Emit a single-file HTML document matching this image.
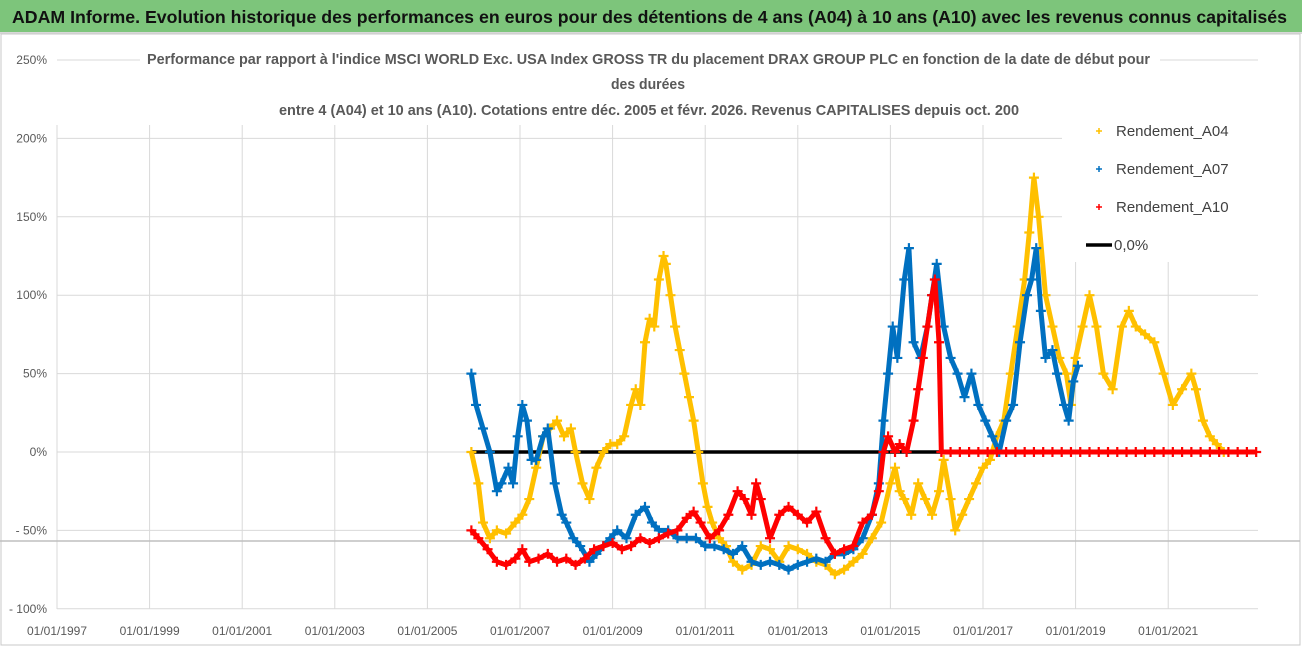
<!DOCTYPE html>
<html><head><meta charset="utf-8">
<style>
body{margin:0;background:#fff;font-family:"Liberation Sans",sans-serif;}
#wrap{position:relative;width:1302px;height:647px;overflow:hidden;background:#fff;}
#banner{position:absolute;left:0;top:0;width:1302px;height:32px;background:#7dc57b;border-bottom:2px solid #d8d8d8;}
svg{position:absolute;left:0;top:0;}
</style></head><body>
<div id="wrap">
<div id="banner"></div>
<svg id="chart" width="1302" height="647">
<text x="12" y="23" font-size="17.5" font-weight="bold" fill="#111" textLength="1275" lengthAdjust="spacingAndGlyphs">ADAM Informe. Evolution historique des performances en euros pour des détentions de 4 ans (A04) à 10 ans (A10) avec les revenus connus capitalisés</text>
</svg>
</div>
<script>
const yTicks=[250,200,150,100,50,0,-50,-100];
const yTickLabels=["250%","200%","150%","100%","50%","0%","- 50%","- 100%"];
const xTickYears=[1997,1999,2001,2003,2005,2007,2009,2011,2013,2015,2017,2019,2021];
const xTickLabels=["01/01/1997","01/01/1999","01/01/2001","01/01/2003","01/01/2005","01/01/2007","01/01/2009","01/01/2011","01/01/2013","01/01/2015","01/01/2017","01/01/2019","01/01/2021"];
const a04Dates=[2005.95,2006.1,2006.2,2006.35,2006.5,2006.7,2006.9,2007.05,2007.2,2007.35,2007.5,2007.65,2007.8,2007.95,2008.1,2008.2,2008.35,2008.5,2008.65,2008.8,2008.95,2009.1,2009.25,2009.4,2009.5,2009.6,2009.7,2009.8,2009.9,2010.0,2010.1,2010.15,2010.25,2010.35,2010.45,2010.55,2010.65,2010.75,2010.85,2010.95,2011.05,2011.15,2011.3,2011.45,2011.6,2011.8,2012.0,2012.2,2012.4,2012.6,2012.8,2013.0,2013.2,2013.4,2013.6,2013.8,2014.0,2014.2,2014.4,2014.6,2014.8,2015.0,2015.1,2015.2,2015.3,2015.45,2015.6,2015.75,2015.9,2016.05,2016.15,2016.3,2016.4,2016.55,2016.7,2016.85,2017.0,2017.15,2017.3,2017.45,2017.6,2017.75,2017.9,2018.0,2018.1,2018.2,2018.35,2018.5,2018.65,2018.8,2018.9,2019.0,2019.15,2019.3,2019.45,2019.6,2019.8,2020.0,2020.15,2020.3,2020.5,2020.7,2020.9,2021.1,2021.3,2021.5,2021.6,2021.75,2021.9,2022.05,2022.2];
const a04Values=[0,-20,-45,-55,-50,-52,-45,-40,-30,-10,10,15,20,10,15,0,-20,-30,-10,0,5,5,10,30,40,30,70,85,80,110,125,120,100,80,65,50,35,20,0,-20,-35,-45,-55,-60,-70,-75,-72,-60,-62,-70,-60,-62,-65,-70,-72,-78,-75,-70,-65,-55,-45,-20,-10,-25,-30,-40,-20,-30,-40,-25,-5,-30,-50,-40,-30,-20,-10,-5,10,20,50,80,110,140,175,150,100,80,60,50,30,60,80,100,80,50,40,80,90,80,75,70,50,30,40,50,40,20,10,5,0];
const a07Dates=[2005.95,2006.05,2006.2,2006.35,2006.5,2006.6,2006.75,2006.85,2006.95,2007.05,2007.15,2007.25,2007.35,2007.5,2007.6,2007.75,2007.9,2008.0,2008.15,2008.3,2008.5,2008.65,2008.8,2008.95,2009.1,2009.3,2009.5,2009.7,2009.85,2010.0,2010.2,2010.4,2010.6,2010.8,2011.0,2011.2,2011.4,2011.6,2011.8,2012.0,2012.2,2012.4,2012.6,2012.8,2013.0,2013.2,2013.4,2013.6,2013.8,2014.0,2014.2,2014.4,2014.6,2014.75,2014.85,2014.95,2015.05,2015.15,2015.3,2015.4,2015.5,2015.65,2015.8,2015.9,2016.0,2016.15,2016.3,2016.45,2016.6,2016.75,2016.9,2017.05,2017.2,2017.35,2017.5,2017.65,2017.8,2017.95,2018.05,2018.15,2018.25,2018.35,2018.5,2018.6,2018.75,2018.85,2018.95,2019.05];
const a07Values=[50,30,15,0,-25,-20,-10,-20,10,30,20,-5,-5,10,15,-20,-40,-45,-55,-60,-70,-65,-60,-55,-50,-55,-40,-35,-45,-50,-50,-55,-55,-55,-60,-60,-62,-65,-60,-70,-72,-70,-72,-75,-72,-70,-68,-70,-65,-65,-62,-55,-40,-20,20,50,80,60,110,130,70,60,80,100,120,80,60,50,35,50,30,20,10,0,20,30,70,100,110,130,90,60,65,50,30,20,45,55];
const a10Dates=[2005.95,2006.1,2006.3,2006.5,2006.7,2006.9,2007.05,2007.2,2007.4,2007.6,2007.8,2008.0,2008.2,2008.4,2008.6,2008.8,2009.0,2009.2,2009.4,2009.6,2009.8,2010.0,2010.2,2010.4,2010.6,2010.75,2010.9,2011.1,2011.3,2011.5,2011.7,2011.85,2012.0,2012.1,2012.2,2012.4,2012.6,2012.8,2013.0,2013.2,2013.4,2013.6,2013.8,2014.0,2014.2,2014.4,2014.6,2014.75,2014.85,2014.95,2015.1,2015.2,2015.35,2015.5,2015.6,2015.7,2015.8,2015.9,2015.96,2016.05,2016.1,2016.3,2016.5,2016.7,2016.9,2017.1,2017.3,2017.5,2017.7,2017.9,2018.1,2018.3,2018.5,2018.7,2018.9,2019.1,2019.3,2019.5,2019.7,2019.9,2020.1,2020.3,2020.5,2020.7,2020.9,2021.1,2021.3,2021.5,2021.7,2021.9,2022.1,2022.3,2022.5,2022.7,2022.9];
const a10Values=[-50,-55,-62,-70,-72,-68,-62,-70,-68,-65,-70,-68,-72,-68,-62,-60,-58,-62,-60,-55,-58,-55,-52,-50,-42,-38,-45,-55,-50,-40,-25,-30,-40,-20,-30,-55,-40,-35,-40,-45,-38,-55,-65,-62,-60,-45,-40,-25,0,10,0,5,0,20,40,60,80,100,110,70,0,0,0,0,0,0,0,0,0,0,0,0,0,0,0,0,0,0,0,0,0,0,0,0,0,0,0,0,0,0,0,0,0,0,0];
const zeroLineDates=[2005.95,2016.1];
const zeroLineValue=0;

const NS="http://www.w3.org/2000/svg";
const svg=document.getElementById('chart');
const X0=57,PX_YEAR=46.3,Y0=452,PX_PCT=1.568;
function xs(t){return X0+(t-1997)*PX_YEAR;}
function ys(v){return Y0-v*PX_PCT;}
function mk(tag,attrs,parent){const e=document.createElementNS(NS,tag);for(const k in attrs)e.setAttribute(k,attrs[k]);(parent||svg).appendChild(e);return e;}

let fr=mk('rect',{x:1,y:34,width:1299,height:611,fill:'none',stroke:'#c8c8c8'});


yTicks.forEach((v,i)=>{
  const l=mk('line',{x1:X0,x2:1258,y1:ys(v),y2:ys(v),stroke:'#d9d9d9','stroke-width':1});
  
  
  const t=mk('text',{x:47,y:ys(v)+4,'text-anchor':'end','font-size':12,fill:'#595959'});
  t.textContent=yTickLabels[i];
  
  
});
xTickYears.forEach((yr,i)=>{
  const l=mk('line',{x1:xs(yr),x2:xs(yr),y1:125,y2:609,stroke:'#d9d9d9','stroke-width':1});
  
  
  const t=mk('text',{x:xs(yr),y:635,'text-anchor':'middle','font-size':12,fill:'#595959'});
  t.textContent=xTickLabels[i];
  
  
});
let ex=mk('line',{x1:0,x2:1300,y1:541,y2:541,stroke:'#bfbfbf','stroke-width':1.5});



const sub=["Performance par rapport à l'indice MSCI WORLD Exc. USA Index GROSS TR  du placement DRAX GROUP PLC en fonction de la date de début pour","des durées","entre 4 (A04) et 10 ans (A10). Cotations entre déc. 2005 et févr. 2026. Revenus CAPITALISES depuis oct. 200"];
const subY=[64,89,115];
const subX=[147,611,279];
const subW=[1003,74,740];
let bg=mk('rect',{x:140,y:47,width:1020,height:74,fill:'#fff'});


sub.forEach((s,i)=>{
  const t=mk('text',{x:subX[i],y:subY[i],'font-size':15,'font-weight':'bold',fill:'#595959',textLength:subW[i],lengthAdjust:'spacingAndGlyphs'});
  t.textContent=s;
  
  
});

let zl=mk('line',{x1:xs(zeroLineDates[0]),x2:xs(zeroLineDates[1]),y1:ys(zeroLineValue),y2:ys(zeroLineValue),stroke:'#000','stroke-width':3.5});



function series(dates,vals,color,name){
  const g=mk('g',{stroke:color,'stroke-width':2.2,fill:'none'});
  
  
  for(let i=0;i<dates.length;i++){
    const x=xs(dates[i]),y=ys(vals[i]);
    const p=mk('path',{d:`M${x-5} ${y}h10M${x} ${y-5}v10`},g);
    
    
    if(i<dates.length-1){
      const x2=xs(dates[i+1]),y2=ys(vals[i+1]);
      const q=mk('line',{x1:x,y1:y,x2:x2,y2:y2,'stroke-width':5},g);
      
      
    }
  }
}
series(a04Dates,a04Values,'#ffc000','series-a04');
series(a07Dates,a07Values,'#0070c0','series-a07');
series(a10Dates,a10Values,'#ff0000','series-a10');

let lb=mk('rect',{x:1062,y:115,width:197,height:147,fill:'#fff'});


const legNames=['Rendement_A04','Rendement_A07','Rendement_A10','0,0%'];
const legColors=['#ffc000','#0070c0','#ff0000','#000'];
const legY=[131,169,207,245];
legNames.forEach((n,i)=>{
  const g=mk('g',{});
  
  
  if(i<3){mk('path',{d:`M${1096} ${legY[i]}h6M1099 ${legY[i]-3}v6`,stroke:legColors[i],'stroke-width':1.5},g);}
  else{mk('line',{x1:1086,x2:1112,y1:legY[i],y2:legY[i],stroke:'#000','stroke-width':3.5},g);}
  const t=mk('text',{x:i<3?1116:1114,y:legY[i]+5,'font-size':15,fill:'#404040'},g);
  t.textContent=n;
});
</script>
</body></html>
